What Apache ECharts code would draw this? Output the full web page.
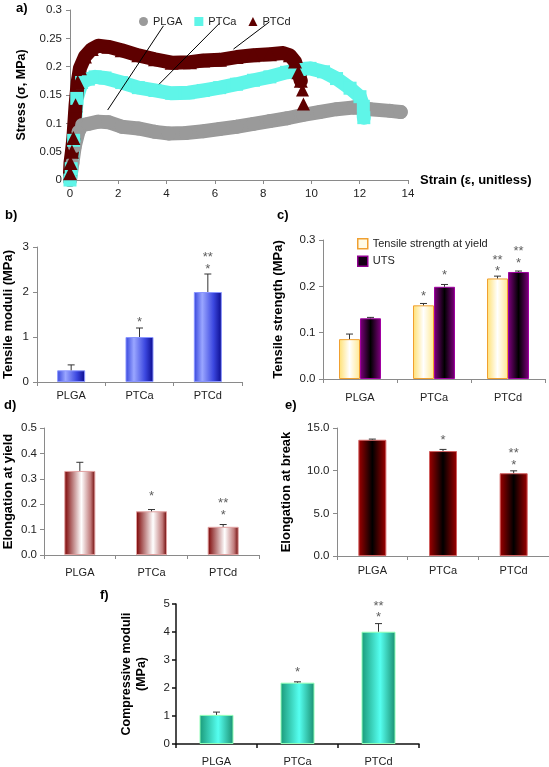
<!DOCTYPE html>
<html><head><meta charset="utf-8">
<script src="https://cdn.jsdelivr.net/npm/echarts@6/dist/echarts.min.js"></script>
<style>html,body{margin:0;padding:0;background:#fff}#c{width:549px;height:767px}</style>
</head><body><div id="c"></div>
<script>
const FF = '"Liberation Sans", Arial, sans-serif';
const categories = ['PLGA', 'PTCa', 'PTCd'];

// a) stress-strain curves [strain, stress]
const plgaCurve = [[0.0,0.0],[0.1,0.03],[0.2,0.06],[0.35,0.085],[0.5,0.097],[0.76,0.099],[1.17,0.103],[1.59,0.102],[2.14,0.094],[2.83,0.091],[3.52,0.085],[4.1,0.082],[4.8,0.083],[5.52,0.086],[6.2,0.09],[6.9,0.094],[7.6,0.099],[8.28,0.104],[9.0,0.109],[9.66,0.115],[10.35,0.12],[11.04,0.125],[11.74,0.128],[12.43,0.125],[13.25,0.122],[13.7,0.12]];
const ptcaCurve = [[0.0,0.0],[0.05,0.02],[0.15,0.07],[0.28,0.144],[0.48,0.172],[0.76,0.178],[1.04,0.182],[1.45,0.18],[2.14,0.172],[2.83,0.163],[3.52,0.158],[4.21,0.153],[4.9,0.154],[5.52,0.158],[6.2,0.163],[6.9,0.169],[7.6,0.176],[8.28,0.182],[8.97,0.19],[9.5,0.195],[9.94,0.197],[10.5,0.191],[11.04,0.179],[11.6,0.162],[12.01,0.147],[12.15,0.13],[12.17,0.11]];
const ptcdCurve = [[0.0,0.012],[0.02,0.03],[0.08,0.05],[0.14,0.074],[0.23,0.132],[0.32,0.173],[0.41,0.197],[0.62,0.218],[0.9,0.231],[1.17,0.237],[1.59,0.235],[2.14,0.229],[2.83,0.22],[3.52,0.213],[4.21,0.207],[4.97,0.208],[5.52,0.211],[6.21,0.212],[6.9,0.217],[7.59,0.22],[8.28,0.222],[8.83,0.224],[9.11,0.22],[9.32,0.209],[9.46,0.19],[9.56,0.175]];
const ptcdTail = [[9.63,0.159],[9.67,0.134]];
const leaderLines = [[3.87,0.272,1.56,0.1235],[6.19,0.2765,3.69,0.169],[8.26,0.279,6.77,0.231]];

// b) tensile moduli
const tensileModuli = [0.26, 1.0, 2.0];
const tensileModuliErr = [0.12, 0.2, 0.4];
const bStars = [[1,1.39,'*'],[2,2.84,'**'],[2,2.56,'*']];

// c) tensile strength
const yieldStrength = [0.086, 0.159, 0.217];
const yieldStrengthErr = [0.011, 0.004, 0.005];
const uts = [0.131, 0.199, 0.231];
const utsErr = [0.002, 0.005, 0.002];
const cYieldStars = [[1,0.185,'*'],[2,0.263,'**'],[2,0.2376,'*']];
const cUtsStars = [[1,0.2296,'*'],[2,0.282,'**'],[2,0.257,'*']];

// d) elongation at yield
const elongYield = [0.331, 0.172, 0.111];
const elongYieldErr = [0.034, 0.007, 0.009];
const dStars = [[1,0.242,'*'],[2,0.216,'**'],[2,0.166,'*']];

// e) elongation at break
const elongBreak = [13.62, 12.3, 9.7];
const elongBreakErr = [0.08, 0.19, 0.28];
const eStars = [[1,13.95,'*'],[2,12.37,'**'],[2,11.0,'*']];

// f) compressive moduli
const compModuli = [1.04, 2.19, 4.01];
const compModuliErr = [0.1, 0.03, 0.29];
const fStars = [[1,2.66,'*'],[2,5.03,'**'],[2,4.62,'*']];

const AX = '#8a8a8a', LBL = '#222';
function grad(stops){ return new echarts.graphic.LinearGradient(0,0,1,0, stops.map(s=>({offset:s[0], color:s[1]}))); }
function catX(gi, margin, axColor, axWidth){ return {type:'category', gridIndex:gi, data:categories, boundaryGap:true,
  axisLine:{lineStyle:{color:axColor||AX, width:axWidth||1}}, axisTick:{show:true,length:4,lineStyle:{color:axColor||AX, width:axWidth||1}},
  axisLabel:{fontSize:11, color:LBL, margin:margin, fontFamily:FF}, splitLine:{show:false}}; }
function valY(gi, max, interval, dec, name, gap, margin, nameSize, axColor, axWidth){ return {type:'value', gridIndex:gi, min:0, max:max, interval:interval,
  axisLine:{show:true,lineStyle:{color:axColor||AX, width:axWidth||1}}, axisTick:{show:true,length:4,lineStyle:{color:axColor||AX, width:axWidth||1}}, splitLine:{show:false},
  axisLabel:{fontSize:11.5, color:LBL, margin:margin, fontFamily:FF, formatter: v => dec===null ? String(+v.toFixed(2)) : v.toFixed(dec)},
  name:name, nameLocation:'middle', nameRotate:90, nameGap:gap,
  nameTextStyle:{fontSize:nameSize, fontWeight:'bold', color:'#000', fontFamily:FF, align:'center', lineHeight:15}}; }
function errSeries(gi, vals, errs, offset){
  return {type:'custom', xAxisIndex:gi, yAxisIndex:gi, z:5,
    data: vals.map((v,i)=>[i, v, errs[i]]),
    renderItem: function(params, api){
      const p0 = api.coord([api.value(0), api.value(1)]);
      const p1 = api.coord([api.value(0), api.value(1)+api.value(2)]);
      const cx = p0[0] + offset;
      return {type:'group', children:[
        {type:'line', shape:{x1:cx,y1:p0[1],x2:cx,y2:p1[1]}, style:{stroke:'#333',lineWidth:1}},
        {type:'line', shape:{x1:cx-3.5,y1:p1[1],x2:cx+3.5,y2:p1[1]}, style:{stroke:'#333',lineWidth:1}}
      ]};
    }};
}
function starSeries(gi, stars, offset){
  return {type:'scatter', xAxisIndex:gi, yAxisIndex:gi, symbol:'circle', symbolSize:1, clip:false, z:6, silent:true,
    itemStyle:{color:'rgba(0,0,0,0)'},
    data: stars,
    label:{show:true, position:'inside', offset:[offset,3], formatter: p => p.value[2], fontSize:13, color:'#333', fontFamily:FF}};
}
function barSeries(gi, vals, width, stops, border){
  return {type:'bar', xAxisIndex:gi, yAxisIndex:gi, data: vals, barWidth:width,
    itemStyle:{color:grad(stops), borderColor:border, borderWidth:1}};
}

const option = {
  animation:false,
  backgroundColor:'#fff',
  textStyle:{fontFamily:FF},
  grid:[
    {left:70, top:10, width:338, height:170},
    {left:36, top:247, width:206, height:135},
    {left:323, top:240, width:222, height:139},
    {left:42, top:428, width:217, height:127},
    {left:337, top:428, width:212, height:128},
    {left:176, top:604, width:243, height:141}
  ],
  legend:[
    {left:134, top:11, itemWidth:9, itemHeight:9, itemGap:12, textStyle:{fontSize:11, color:'#222', fontFamily:FF},
     data:[{name:'PLGA', icon:'circle'},{name:'PTCa', icon:'rect'},{name:'PTCd', icon:'triangle'}]},
    {left:352, top:233, orient:'vertical', itemWidth:10, itemHeight:10, itemGap:6, textStyle:{fontSize:11, color:'#222', fontFamily:FF},
     data:[{name:'Tensile strength at yield', icon:'rect', itemStyle:{color:'#fffbe6', borderColor:'#f0a030', borderWidth:1.5}},
           {name:'UTS', icon:'rect', itemStyle:{color:'#150015', borderColor:'#900090', borderWidth:1.5}}]}
  ],
  xAxis:[
    {type:'value', gridIndex:0, min:0, max:14, interval:2,
     axisLine:{show:true,lineStyle:{color:AX}}, axisTick:{show:true,length:4,lineStyle:{color:AX}}, splitLine:{show:false},
     axisLabel:{fontSize:11.5, color:LBL, margin:8, fontFamily:FF},
     name:'Strain (ε, unitless)', nameLocation:'end', nameGap:12,
     nameTextStyle:{fontSize:13, fontWeight:'bold', color:'#000', fontFamily:FF}},
    catX(1, 8.5), catX(2, 13), catX(3, 12.5), catX(4, 9.5), catX(5, 12, '#111', 1.5)
  ],
  yAxis:[
    valY(0, 0.3, 0.05, null, 'Stress (σ, MPa)', 38, 8, 12.5),
    valY(1, 3, 1, 0, 'Tensile moduli (MPa)', 21, 8, 13),
    valY(2, 0.3, 0.1, 1, 'Tensile strength (MPa)', 37, 7.5, 13),
    valY(3, 0.5, 0.1, 1, 'Elongation at yield', 28, 7, 13),
    valY(4, 15, 5, 1, 'Elongation at break', 43, 7.5, 13),
    valY(5, 5, 1, 0, 'Compressive moduli\n(MPa)', 27, 6, 12.5, '#111', 1.5)
  ],
  series:[
    {name:'PLGA', type:'line', xAxisIndex:0, yAxisIndex:0, data:plgaCurve, symbol:'circle', symbolSize:14, showSymbol:true,
     itemStyle:{color:'#9a9a9a', opacity:1}, lineStyle:{color:'#9a9a9a', width:14, join:'round', cap:'round'}},
    {name:'PTCa', type:'line', xAxisIndex:0, yAxisIndex:0, data:ptcaCurve, symbol:'rect', symbolSize:13, showSymbol:true,
     itemStyle:{color:'#5ff5e8', opacity:1}, lineStyle:{color:'#5ff5e8', width:14, join:'round', cap:'round'}},
    {name:'PTCd', type:'line', xAxisIndex:0, yAxisIndex:0, data:ptcdCurve, symbol:'triangle', symbolSize:14, showSymbol:true,
     itemStyle:{color:'#5e0000', opacity:1}, lineStyle:{color:'#5e0000', width:14, join:'round', cap:'round'}},
    {name:'PTCd', type:'scatter', xAxisIndex:0, yAxisIndex:0, data:ptcdTail, symbol:'triangle', symbolSize:13,
     itemStyle:{color:'#5e0000', opacity:1}, z:4,
     markLine:{silent:true, symbol:['none','none'], label:{show:false}, lineStyle:{color:'#000', width:1, type:'solid'},
       data: leaderLines.map(l => [{coord:[l[0],l[1]]},{coord:[l[2],l[3]]}])}},

    barSeries(1, tensileModuli, 28, [[0,'#3444dc'],[0.3,'#9aa6ff'],[0.7,'#3c48e0'],[1,'#0a0a8c']], '#8a96ff'),
    errSeries(1, tensileModuli, tensileModuliErr, 0),
    starSeries(1, bStars, 0),

    {name:'Tensile strength at yield', type:'bar', xAxisIndex:2, yAxisIndex:2, data:yieldStrength, barWidth:21, barGap:'0%',
     itemStyle:{color:grad([[0,'#ffe070'],[0.5,'#ffffff'],[1,'#ffe890']]), borderColor:'#f0a030', borderWidth:1}},
    {name:'UTS', type:'bar', xAxisIndex:2, yAxisIndex:2, data:uts, barWidth:21, barGap:'0%',
     itemStyle:{color:grad([[0,'#800080'],[0.5,'#000000'],[1,'#800080']]), borderColor:'#a000a0', borderWidth:1}},
    errSeries(2, yieldStrength, yieldStrengthErr, -10.5),
    errSeries(2, uts, utsErr, 10.5),
    starSeries(2, cYieldStars, -10.5),
    starSeries(2, cUtsStars, 10.5),

    barSeries(3, elongYield, 31, [[0,'#7a0000'],[0.55,'#ffffff'],[0.85,'#c07a7a'],[1,'#6a0000']], '#e0a0a0'),
    errSeries(3, elongYield, elongYieldErr, 0),
    starSeries(3, dStars, 0),

    barSeries(4, elongBreak, 28, [[0,'#a00000'],[0.5,'#000000'],[1,'#a00000']], '#d06060'),
    errSeries(4, elongBreak, elongBreakErr, 0),
    starSeries(4, eStars, 0),

    barSeries(5, compModuli, 34, [[0,'#1a9a78'],[0.55,'#55fff0'],[1,'#1a8f70']], '#90ffb8'),
    errSeries(5, compModuli, compModuliErr, 0),
    starSeries(5, fStars, 0)
  ],
  graphic:[
    {type:'text', left:16, top:2, style:{text:'a)', font:'bold 13px '+FF, fill:'#000'}},
    {type:'text', left:5, top:209, style:{text:'b)', font:'bold 13px '+FF, fill:'#000'}},
    {type:'text', left:277, top:209, style:{text:'c)', font:'bold 13px '+FF, fill:'#000'}},
    {type:'text', left:4, top:399, style:{text:'d)', font:'bold 13px '+FF, fill:'#000'}},
    {type:'text', left:285, top:399, style:{text:'e)', font:'bold 13px '+FF, fill:'#000'}},
    {type:'text', left:100, top:589, style:{text:'f)', font:'bold 13px '+FF, fill:'#000'}}
  ]
};
const chart = echarts.init(document.getElementById('c'), null, {renderer:'canvas'});
chart.setOption(option);
</script></body></html>
